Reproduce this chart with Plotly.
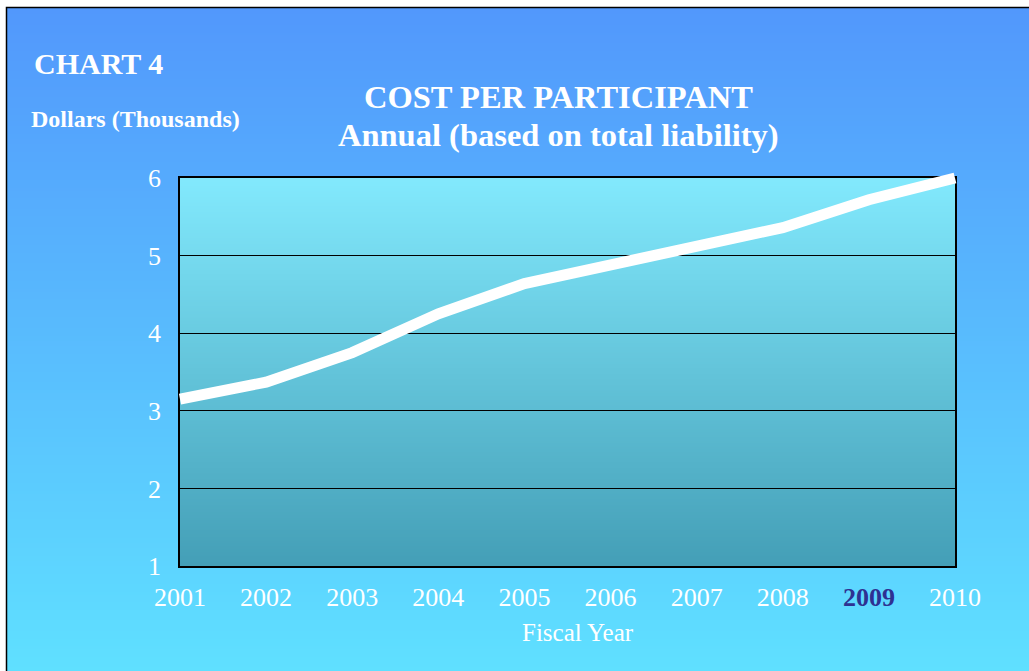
import base64
import struct
import zlib
import plotly.graph_objects as go

# ---- data ----
years = [2001, 2002, 2003, 2004, 2005, 2006, 2007, 2008, 2009, 2010]
cost_thousands = [3.15, 3.37, 3.75, 4.25, 4.64, 4.88, 5.15, 5.36, 5.72, 6.00]
y_tick_values = [1, 2, 3, 4, 5, 6]
x_tick_labels = ["2001", "2002", "2003", "2004", "2005", "2006", "2007", "2008", "2009", "2010"]
highlight_label = "2009"

# ---- layout constants ----
W, H = 1029, 671
FONT = "Liberation Serif, Times New Roman, serif"
PX_L, PX_R, PX_T, PX_B = 180, 955, 178, 566
xd = [PX_L / W, PX_R / W]
yd = [1 - PX_B / H, 1 - PX_T / H]


def gradient_png(top, bottom, n=256, w=4):
    raw = b""
    for i in range(n):
        t = i / (n - 1)
        c = bytes(round(top[k] + (bottom[k] - top[k]) * t) for k in range(3))
        raw += b"\x00" + c * w

    def chunk(tag, data):
        return (struct.pack(">I", len(data)) + tag + data
                + struct.pack(">I", zlib.crc32(tag + data) & 0xFFFFFFFF))

    png = (b"\x89PNG\r\n\x1a\n"
           + chunk(b"IHDR", struct.pack(">IIBBBBB", w, n, 8, 2, 0, 0, 0))
           + chunk(b"IDAT", zlib.compress(raw))
           + chunk(b"IEND", b""))
    return "data:image/png;base64," + base64.b64encode(png).decode()


page_bg = gradient_png((0x52, 0x98, 0xFC), (0x5F, 0xE0, 0xFF))
plot_bg = gradient_png((0x82, 0xE9, 0xFD), (0x44, 0x9F, 0xB7))

ticktext = [
    f"<b><span style='color:#2E3192'>{t}</span></b>" if t == highlight_label else t
    for t in x_tick_labels
]

fig = go.Figure()

# line on an overlay subplot with slightly larger domain (same scale) so it is not clipped
pad_units_x = 0.5
pad_units_y = 0.5
nx = years[-1] - years[0]
ny = y_tick_values[-1] - y_tick_values[0]
padx = pad_units_x * (xd[1] - xd[0]) / nx
pady = pad_units_y * (yd[1] - yd[0]) / ny

fig.add_trace(go.Scatter(
    x=years, y=cost_thousands, mode="lines",
    line=dict(color="white", width=11),
    xaxis="x2", yaxis="y2", hoverinfo="skip", showlegend=False,
))

fig.update_layout(
    template="none",
    width=W, height=H,
    margin=dict(l=0, r=0, t=0, b=0, pad=0, autoexpand=False),
    paper_bgcolor="white",
    plot_bgcolor="rgba(0,0,0,0)",
    showlegend=False,
    xaxis=dict(
        domain=xd, range=[years[0], years[-1]], anchor="y",
        tickvals=years, ticktext=ticktext, ticks="",
        showgrid=False, zeroline=False, automargin=False,
        showline=True, mirror=True, linecolor="black", linewidth=1.5,
        tickfont=dict(family=FONT, size=26, color="white"),
        ticklabelstandoff=7, fixedrange=True,
    ),
    yaxis=dict(
        domain=yd, range=[y_tick_values[0], y_tick_values[-1]], anchor="x",
        tickvals=y_tick_values, ticks="",
        showgrid=True, gridcolor="black", gridwidth=1, zeroline=False, automargin=False,
        showline=True, mirror=True, linecolor="black", linewidth=1.5,
        tickfont=dict(family=FONT, size=26, color="white"),
        ticklabelstandoff=12, fixedrange=True,
    ),
    xaxis2=dict(
        domain=[xd[0] - padx, xd[1] + padx],
        range=[years[0] - pad_units_x, years[-1] + pad_units_x],
        anchor="y2", visible=False, fixedrange=True, automargin=False,
    ),
    yaxis2=dict(
        domain=[yd[0] - pady, yd[1] + pady],
        range=[y_tick_values[0] - pad_units_y, y_tick_values[-1] + pad_units_y],
        anchor="x2", visible=False, fixedrange=True, automargin=False,
    ),
    images=[
        dict(source=page_bg, xref="paper", yref="paper",
             x=7 / W, y=1 - 8 / H, sizex=1 - 7 / W, sizey=1 - 8 / H,
             xanchor="left", yanchor="top", sizing="stretch", layer="below"),
        dict(source=plot_bg, xref="x", yref="y",
             x=years[0], y=y_tick_values[-1],
             sizex=years[-1] - years[0], sizey=y_tick_values[-1] - y_tick_values[0],
             xanchor="left", yanchor="top", sizing="stretch", layer="below"),
    ],
    shapes=[
        dict(type="rect", xref="paper", yref="paper",
             x0=6.5 / W, x1=1.02, y0=-0.02, y1=1 - 7.5 / H,
             line=dict(color="black", width=1.5), fillcolor="rgba(0,0,0,0)",
             layer="above"),
    ],
    annotations=[
        dict(text="<b>CHART 4</b>", xref="paper", yref="paper",
             x=32 / W, y=1 - 64 / H, xanchor="left", yanchor="middle",
             showarrow=False, font=dict(family=FONT, size=30, color="white")),
        dict(text="<b>Dollars (Thousands)</b>", xref="paper", yref="paper",
             x=29 / W, y=1 - 119 / H, xanchor="left", yanchor="middle",
             showarrow=False, font=dict(family=FONT, size=24, color="white")),
        dict(text="<b>COST PER PARTICIPANT</b>", xref="paper", yref="paper",
             x=558 / W, y=1 - 97 / H, xanchor="center", yanchor="middle",
             showarrow=False, font=dict(family=FONT, size=32.5, color="white")),
        dict(text="<b>Annual (based on total liability)</b>", xref="paper", yref="paper",
             x=558 / W, y=1 - 135 / H, xanchor="center", yanchor="middle",
             showarrow=False, font=dict(family=FONT, size=32.5, color="white")),
        dict(text="Fiscal Year", xref="paper", yref="paper",
             x=578 / W, y=1 - 632 / H, xanchor="center", yanchor="middle",
             showarrow=False, font=dict(family=FONT, size=25, color="white")),
    ],
)

fig.write_html("out.html")
